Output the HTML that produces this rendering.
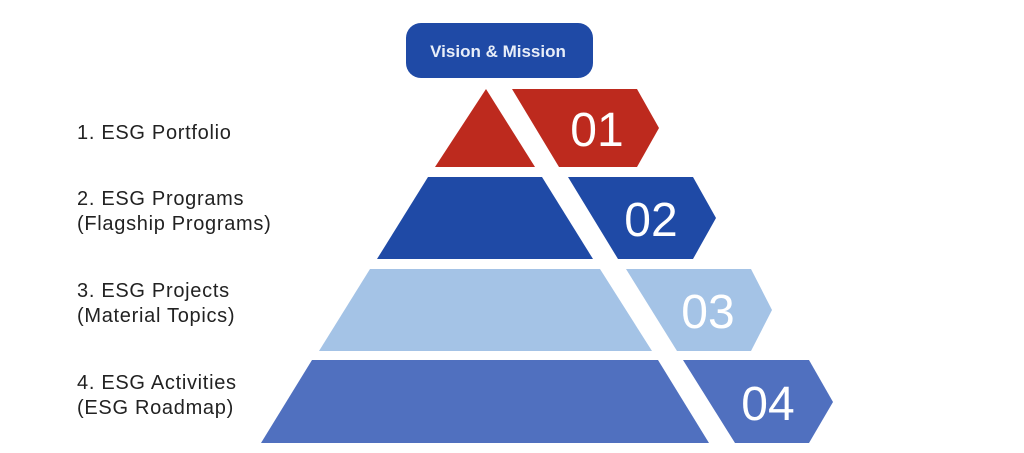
<!DOCTYPE html>
<html><head><meta charset="utf-8"><style>
html,body{margin:0;padding:0;background:#fff;}
body{width:1024px;height:453px;overflow:hidden;position:relative;font-family:"Liberation Sans",sans-serif;}
.l{position:absolute;left:77px;font-size:20px;letter-spacing:0.7px;color:#222;line-height:25px;}
</style></head><body>
<svg width="1024" height="453" style="position:absolute;left:0;top:0">
<rect x="406" y="23" width="187" height="55" rx="15" fill="#1f4aa6"/>
<text x="498" y="57" text-anchor="middle" font-family="Liberation Sans" font-weight="bold" font-size="17" fill="#e8eef8">Vision &amp; Mission</text>
<polygon points="486,89 535,167 435,167" fill="#bd2a1e"/>
<polygon points="512,89 637,89 659,128 637,167 559,167" fill="#bd2a1e"/>
<polygon points="428,177 542,177 593,259 377,259" fill="#1f4aa6"/>
<polygon points="568,177 693,177 716,218 693,259 618,259" fill="#1f4aa6"/>
<polygon points="370,269 600,269 652,351 319,351" fill="#a4c3e6"/>
<polygon points="626,269 751,269 772,310 751,351 677,351" fill="#a4c3e6"/>
<polygon points="312,360 658,360 709,443 261,443" fill="#5070bf"/>
<polygon points="683,360 809,360 833,402 809,443 735,443" fill="#5070bf"/>
<g font-family="Liberation Sans" font-size="48" fill="#fff" text-anchor="middle">
<text x="597" y="146">01</text>
<text x="651" y="236">02</text>
<text x="708" y="328">03</text>
<text x="768" y="420">04</text>
</g>
</svg>
<div class="l" style="top:121px">1. ESG Portfolio</div>
<div class="l" style="top:187px">2. ESG Programs<br>(Flagship Programs)</div>
<div class="l" style="top:279px">3. ESG Projects<br>(Material Topics)</div>
<div class="l" style="top:371px">4. ESG Activities<br>(ESG Roadmap)</div>
</body></html>
